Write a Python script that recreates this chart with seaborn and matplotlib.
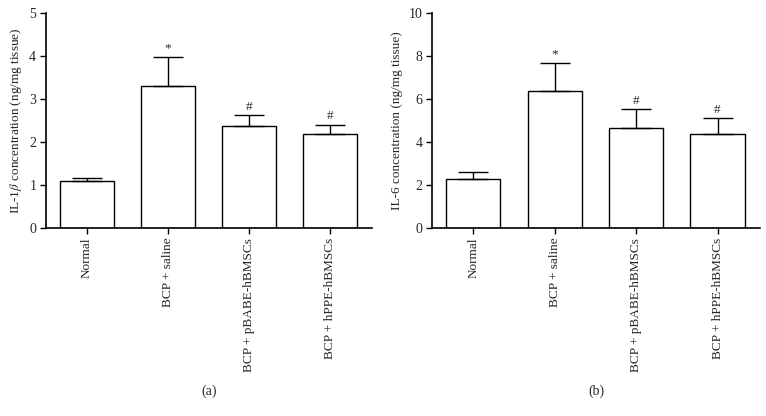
import matplotlib
matplotlib.use("Agg")
import matplotlib.pyplot as plt
import seaborn as sns
import pandas as pd
import numpy as np

categories = ["Normal", "BCP + saline", "BCP + pBABE-hBMSCs", "BCP + hPPE-hBMSCs"]
il1b_mean = [1.10, 3.30, 2.37, 2.20]
il1b_err = [0.07, 0.68, 0.25, 0.21]
il6_mean = [2.28, 6.40, 4.65, 4.40]
il6_err = [0.31, 1.30, 0.88, 0.71]
marks = ["", "*", "#", "#"]

sns.set_theme(style="ticks")
plt.rcParams["font.family"] = ["Liberation Serif", "DejaVu Serif"]
plt.rcParams["mathtext.fontset"] = "stix"

fig = plt.figure(figsize=(7.66, 4.16), dpi=100)
ax1 = fig.add_axes([0.060, 0.452, 0.426, 0.516])
ax2 = fig.add_axes([0.564, 0.452, 0.428, 0.516])


def panel(ax, means, errs, ylim, yticks, ylabel, tag):
    df = pd.DataFrame({"group": categories, "value": means})
    sns.barplot(data=df, x="group", y="value", ax=ax, color="white",
                edgecolor="black", linewidth=1.0, width=0.667, errorbar=None)
    xs = np.arange(len(categories))
    ax.errorbar(xs, means, yerr=[np.zeros(len(means)), errs], fmt="none",
                ecolor="black", elinewidth=1.0, capsize=11, capthick=1.0)
    span = ylim[1] - ylim[0]
    for x, m, e, mk in zip(xs, means, errs, marks):
        if mk:
            ax.text(x, m + e + span * 0.012, mk, ha="center", va="bottom",
                    fontsize=9.5)
    ax.set_xlim(-0.506, 3.52)
    ax.set_ylim(*ylim)
    ax.set_yticks(yticks)
    ax.set_yticklabels([str(t) for t in yticks], fontsize=10)
    ax.set_xticks(xs)
    ax.set_xticklabels(categories, rotation=90, fontsize=9.5)
    ax.set_xlabel("")
    ax.set_ylabel(ylabel, fontsize=9.5)
    ax.tick_params(axis="both", direction="out", length=4, width=1.0,
                   color="black", pad=3)
    for s in ["top", "right"]:
        ax.spines[s].set_visible(False)
    for s in ["left", "bottom"]:
        ax.spines[s].set_linewidth(1.2)
        ax.spines[s].set_color("black")
    ax.text(0.5, -0.76, tag, transform=ax.transAxes, ha="center",
            va="center", fontsize=10)


panel(ax1, il1b_mean, il1b_err, (0, 5), [0, 1, 2, 3, 4, 5],
      r"IL-1$\beta$ concentration (ng/mg tissue)", "(a)")
panel(ax2, il6_mean, il6_err, (0, 10), [0, 2, 4, 6, 8, 10],
      "IL-6 concentration (ng/mg tissue)", "(b)")

fig.savefig("out.png", dpi=100)
